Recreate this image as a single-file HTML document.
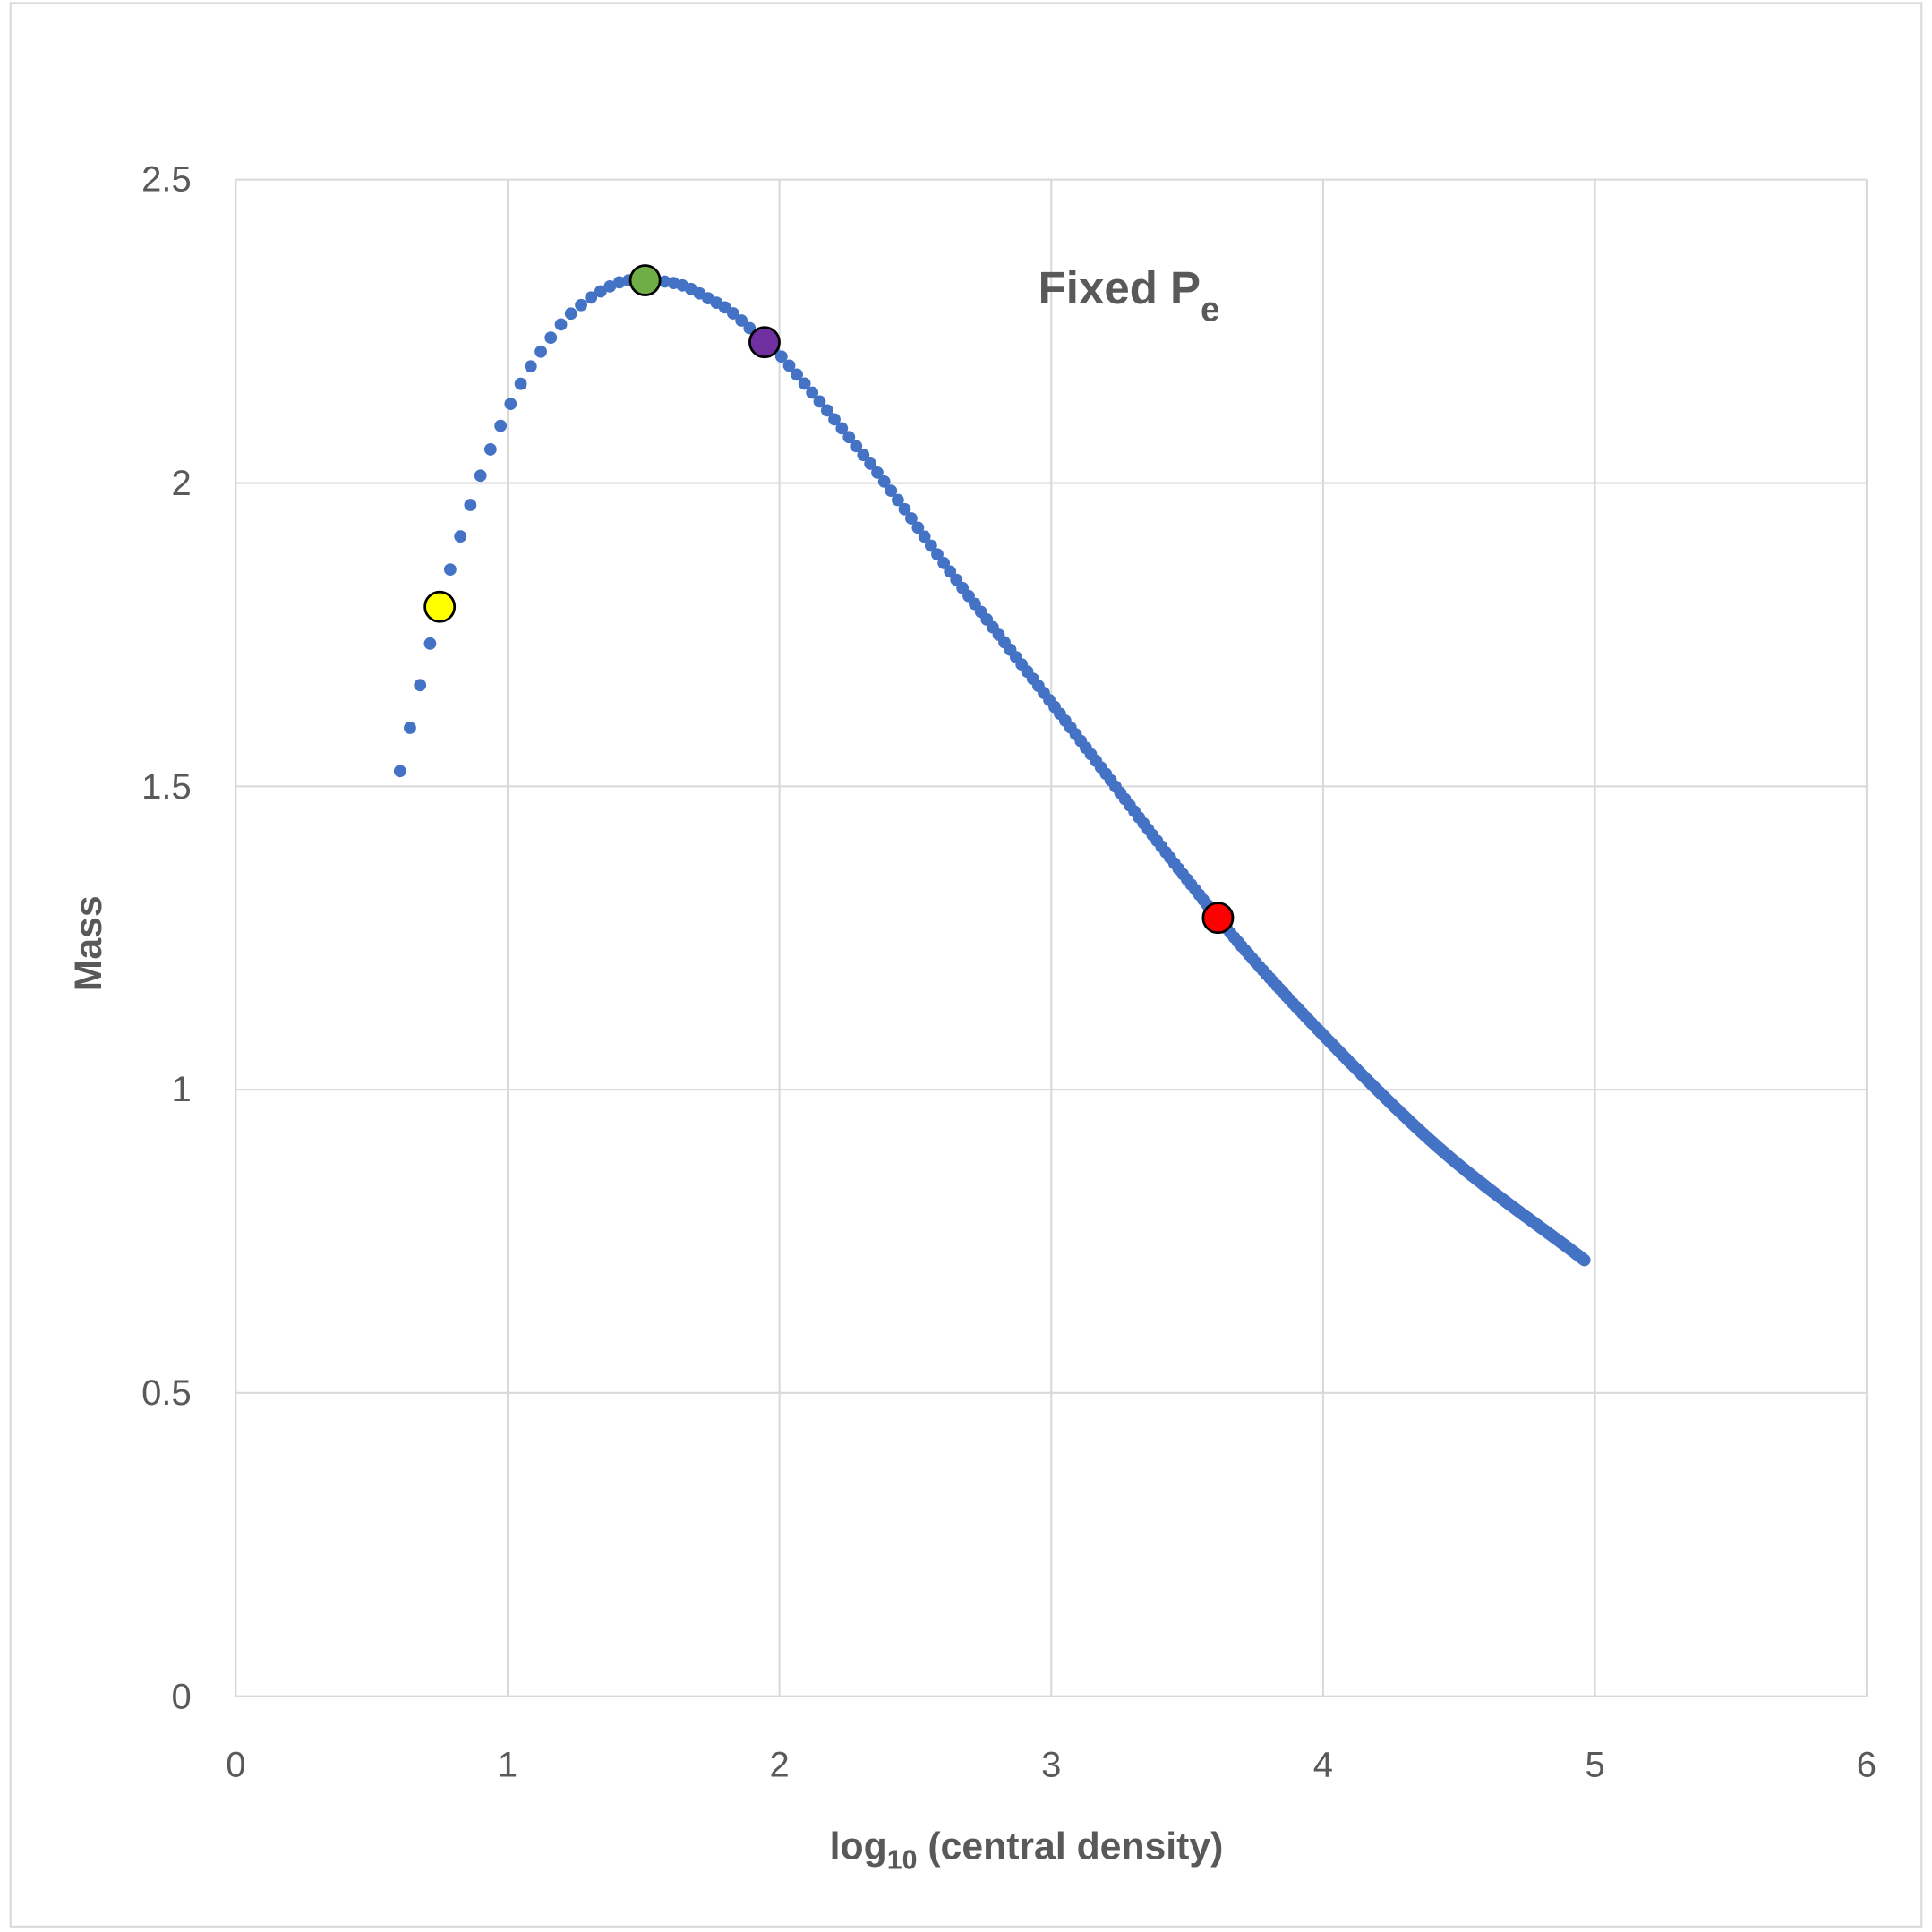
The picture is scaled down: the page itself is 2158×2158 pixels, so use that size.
<!DOCTYPE html>
<html><head><meta charset="utf-8"><style>html,body{margin:0;padding:0;background:#fff}svg{display:block}</style></head>
<body>
<svg id="s" width="2158" height="2158" viewBox="0 0 1565 1565" xmlns="http://www.w3.org/2000/svg" font-family="Liberation Sans, sans-serif">
<rect x="8.5" y="2.5" width="1548" height="1558" fill="#fff" stroke="#d9d9d9" stroke-width="1.5"/>
<g stroke="#d9d9d9" stroke-width="1.5">
<line x1="191" y1="145.5" x2="1512" y2="145.5"/><line x1="191" y1="391.3" x2="1512" y2="391.3"/>
<line x1="191" y1="637" x2="1512" y2="637"/><line x1="191" y1="882.6" x2="1512" y2="882.6"/>
<line x1="191" y1="1128.3" x2="1512" y2="1128.3"/><line x1="191" y1="1374" x2="1512" y2="1374"/>
<line x1="191" y1="145.5" x2="191" y2="1374"/><line x1="411.2" y1="145.5" x2="411.2" y2="1374"/>
<line x1="631.4" y1="145.5" x2="631.4" y2="1374"/><line x1="851.6" y1="145.5" x2="851.6" y2="1374"/>
<line x1="1071.8" y1="145.5" x2="1071.8" y2="1374"/><line x1="1292" y1="145.5" x2="1292" y2="1374"/>
<line x1="1512" y1="145.5" x2="1512" y2="1374"/>
</g>
<g fill="#595959" font-size="29" text-anchor="end">
<text x="155" y="155">2.5</text><text x="155" y="401">2</text><text x="155" y="647">1.5</text>
<text x="155" y="892">1</text><text x="155" y="1138">0.5</text><text x="155" y="1384">0</text>
</g>
<g fill="#595959" font-size="29" text-anchor="middle">
<text x="191" y="1439">0</text><text x="411.2" y="1439">1</text><text x="631.4" y="1439">2</text>
<text x="851.6" y="1439">3</text><text x="1071.8" y="1439">4</text><text x="1292" y="1439">5</text><text x="1512" y="1439">6</text>
</g>
<text x="672" y="1506" fill="#595959" font-size="31" font-weight="bold">log<tspan font-size="22" dy="8">10</tspan><tspan dy="-8"> (central density)</tspan></text>
<text transform="translate(82,803) rotate(-90)" fill="#595959" font-size="31" font-weight="bold">Mass</text>
<text x="841" y="246" fill="#595959" font-size="37" font-weight="bold">Fixed P<tspan font-size="28" dy="14">e</tspan></text>
<g id="dots" fill="#4472c4"></g>
<g stroke="#000" stroke-width="2">
<circle cx="356.2" cy="491.5" r="12" fill="#ffff00"/>
<circle cx="522.6" cy="227" r="12" fill="#70ad47"/>
<circle cx="619.3" cy="277.2" r="12" fill="#7030a0"/>
<circle cx="986.6" cy="743.5" r="12" fill="#ff0000"/>
</g>
</svg>
<script>
var P=[[0.604,1.525],[0.683,1.676],[0.750,1.796],[0.838,1.929],[0.914,2.029],[0.990,2.110],[1.066,2.178],[1.142,2.229],[1.215,2.271],[1.287,2.299],[1.359,2.320],[1.430,2.333],[1.506,2.334],[1.592,2.331],[1.658,2.323],[1.735,2.305],[1.823,2.282],[1.945,2.232],[2.0,2.212],[2.353,2.021],[2.626,1.855],[3.0,1.638],[3.613,1.283],[4.0,1.09],[4.454,0.893],[4.964,0.718]];
function f(x){for(var i=0;i<P.length-1;i++){if(x<=P[i+1][0]){var p0=P[Math.max(i-1,0)],p1=P[i],p2=P[i+1],p3=P[Math.min(i+2,P.length-1)];var h=p2[0]-p1[0],t=(x-p1[0])/h;var m1=(p2[1]-p0[1])/(p2[0]-p0[0])*h,m2=(p3[1]-p1[1])/(p3[0]-p1[0])*h;var t2=t*t,t3=t2*t;return (2*t3-3*t2+1)*p1[1]+(t3-2*t2+t)*m1+(-2*t3+3*t2)*p2[1]+(t3-t2)*m2;}}return P[P.length-1][1];}
var g=document.getElementById('dots'),h='',x=0.604;
while(x<=4.965){var px=191+x*220.2,py=1374-f(x)*491.4;h+='<circle cx="'+px.toFixed(1)+'" cy="'+py.toFixed(1)+'" r="5"/>';var dx=x<1.3?0.037:Math.max(0.006,0.035-0.009*(x-1.3));x+=dx;}
g.innerHTML=h;
</script>
</body></html>
